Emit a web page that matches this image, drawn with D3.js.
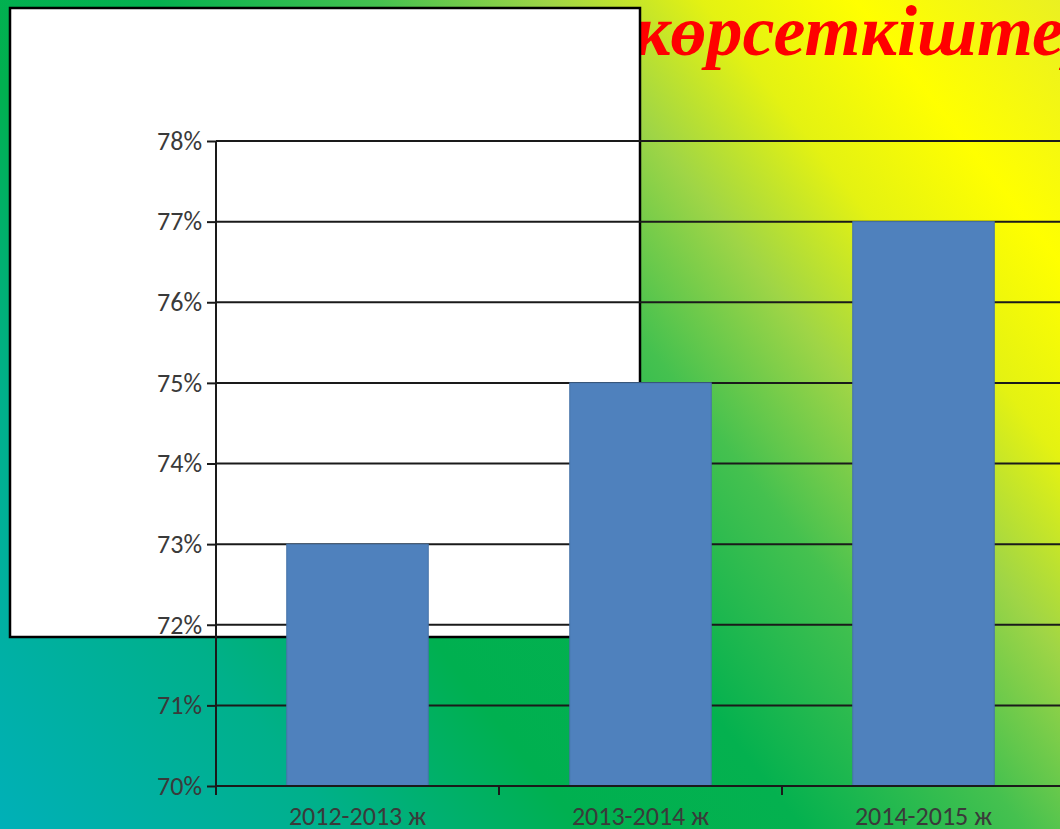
<!DOCTYPE html>
<html>
<head>
<meta charset="utf-8">
<script src="https://cdn.jsdelivr.net/npm/d3@7"></script>
<style>
  html, body { margin: 0; padding: 0; overflow: hidden; }
  svg { display: block; }
</style>
</head>
<body>
<svg id="chart" width="1060" height="829"></svg>
<script>
// ---- data ----
const categories = ["2012-2013 ж", "2013-2014 ж", "2014-2015 ж"];
const values = [0.73, 0.75, 0.77];
const yTicks = [0.70, 0.71, 0.72, 0.73, 0.74, 0.75, 0.76, 0.77, 0.78];
const titleText = "көрсеткіштері";

const W = 1060, H = 829;
const svg = d3.select("#chart");

// background gradient
const defs = svg.append("defs");
const grad = defs.append("linearGradient")
  .attr("id", "bg").attr("gradientUnits", "userSpaceOnUse")
  .attr("x1", W).attr("y1", 0).attr("x2", 0).attr("y2", H);
[
  [0.00, "#eaf022"], [0.12, "#ffff00"], [0.21, "#e4f212"], [0.30, "#9fd546"],
  [0.40, "#45c14f"], [0.53, "#04b14f"], [0.66, "#00b050"], [0.80, "#00b08a"],
  [1.00, "#00b0b8"]
].forEach(([o, c]) => grad.append("stop").attr("offset", o).attr("stop-color", c));

svg.append("rect").attr("width", W).attr("height", H).attr("fill", "url(#bg)");

// title (partially hidden behind the white panel)
svg.append("text")
  .attr("x", 634).attr("y", 55)
  .attr("font-family", "'Liberation Serif', 'Times New Roman', serif")
  .attr("font-weight", "bold").attr("font-style", "italic")
  .attr("font-size", 72).attr("fill", "#ff0000")
  .text(titleText);

// white panel
svg.append("rect")
  .attr("x", 10).attr("y", 8).attr("width", 630).attr("height", 629)
  .attr("fill", "#ffffff").attr("stroke", "#000").attr("stroke-width", 2.5);

// scales
const x0 = 216, xEnd = 1065, yTop = 141, yBot = 786;
const x = d3.scaleBand().domain(categories).range([x0, xEnd])
  .paddingInner(0.5).paddingOuter(0.25);
const y = d3.scaleLinear().domain([0.70, 0.78]).range([yBot, yTop]);

const font = "Carlito, 'Liberation Sans Narrow', 'Open Sans', sans-serif";

// gridlines
svg.append("g").selectAll("line").data(yTicks).join("line")
  .attr("x1", x0).attr("x2", W + 10)
  .attr("y1", d => y(d)).attr("y2", d => y(d))
  .attr("stroke", "#1a1a1a").attr("stroke-width", 2);

// bars
svg.append("g").selectAll("rect").data(values).join("rect")
  .attr("x", (d, i) => x(categories[i]))
  .attr("width", x.bandwidth())
  .attr("y", d => y(d))
  .attr("height", d => yBot - y(d))
  .attr("fill", "#4f81bd")
  .attr("stroke", "#4673a8").attr("stroke-width", 1);

// y axis
const yAxis = d3.axisLeft(y).tickValues(yTicks).tickFormat(d3.format(".0%"))
  .tickSize(9).tickPadding(5);
const gy = svg.append("g").attr("transform", `translate(${x0},0)`).call(yAxis);
gy.select(".domain").remove();
gy.selectAll(".tick line").attr("stroke", "#1a1a1a").attr("stroke-width", 2);
gy.selectAll(".tick text").attr("font-family", font).attr("font-size", 26)
  .attr("fill", "#3a3a3a");
svg.append("line").attr("x1", x0).attr("x2", x0).attr("y1", yTop).attr("y2", yBot + 9)
  .attr("stroke", "#1a1a1a").attr("stroke-width", 2);

// x axis
const xAxis = d3.axisBottom(x).tickSize(0).tickPadding(21);
const gx = svg.append("g").attr("transform", `translate(0,${yBot})`).call(xAxis);
gx.select(".domain").remove();
gx.selectAll(".tick text").attr("font-family", font).attr("font-size", 26)
  .attr("fill", "#3a3a3a");
svg.append("line").attr("x1", x0).attr("x2", W + 10).attr("y1", yBot).attr("y2", yBot)
  .attr("stroke", "#1a1a1a").attr("stroke-width", 2);
// category boundary ticks
const bounds = categories.map(c => x(c) - x.step() * x.paddingOuter());
svg.append("g").selectAll("line").data(bounds).join("line")
  .attr("x1", d => d).attr("x2", d => d)
  .attr("y1", yBot).attr("y2", yBot + 9)
  .attr("stroke", "#1a1a1a").attr("stroke-width", 2);
</script>
</body>
</html>
